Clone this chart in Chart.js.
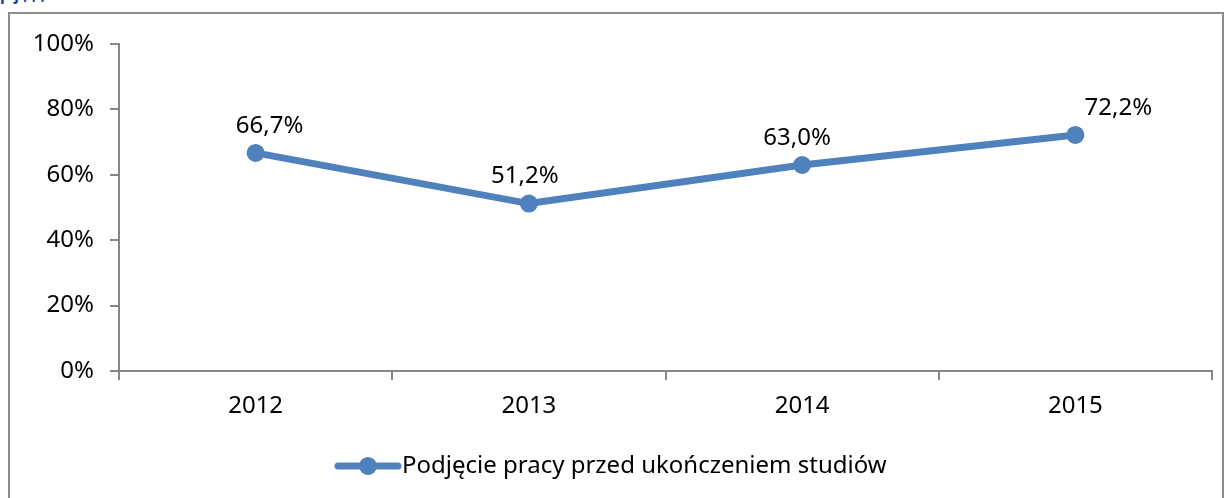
<!DOCTYPE html>
<html>
<head>
<meta charset="utf-8">
<script src="https://cdn.jsdelivr.net/npm/chart.js@4.4.0/dist/chart.umd.min.js"></script>
<style>
  html, body { margin: 0; padding: 0; background: #fff; overflow: hidden; }
  #wrap { position: relative; width: 1228px; height: 498px; }
  #frame { position: absolute; left: 8px; top: 12px; width: 1216px; height: 500px; border: 2px solid #8c8c8c; box-sizing: border-box; }
  #topline { position: absolute; left: 0; top: -17px; font: bold 16px "Noto Sans", sans-serif; color: #1f3f8f; white-space: nowrap; }
  canvas { position: absolute; left: 0; top: 0; }
</style>
</head>
<body>
<div id="wrap">
  <div id="topline">p      j     ,            ,              ,</div>
  <div id="frame"></div>
  <canvas id="chart" width="1228" height="498"></canvas>
</div>
<script>
// Data
const years = ['2012', '2013', '2014', '2015'];
const values = [66.7, 51.2, 63.0, 72.2];
const seriesName = 'Podjęcie pracy przed ukończeniem studiów';
const yTicks = [0, 20, 40, 60, 80, 100];

const blue = '#4f81bd';
const axisGray = '#868686';
const font = '"Noto Sans", "Open Sans", sans-serif';
const fontSize = 24;

function pl(v) {
    return v.toFixed(1).replace('.', ',') + '%';
}

// Data labels above points, legend at bottom
const labelsPlugin = {
    id: 'labels',
    afterDatasetsDraw(chart) {
        const ctx = chart.ctx;
        const meta = chart.getDatasetMeta(0);
        const shift = [14, -4, -5, 43];
        ctx.save();
        ctx.font = fontSize + 'px ' + font;
        ctx.fillStyle = '#000';
        ctx.textAlign = 'center';
        ctx.textBaseline = 'middle';
        meta.data.forEach(function(pt, i) {
            ctx.fillText(pl(values[i]), pt.x + shift[i], pt.y - 27);
        });

        // legend
        const ly = 466;
        ctx.strokeStyle = blue;
        ctx.lineWidth = 7;
        ctx.lineCap = 'round';
        ctx.beginPath();
        ctx.moveTo(338, ly);
        ctx.lineTo(398, ly);
        ctx.stroke();
        ctx.fillStyle = blue;
        ctx.beginPath();
        ctx.arc(368, ly, 9, 0, Math.PI * 2);
        ctx.fill();
        ctx.fillStyle = '#000';
        ctx.textAlign = 'left';
        ctx.fillText(seriesName, 402, ly);
        ctx.restore();
    }
};

new Chart(document.getElementById('chart'), {
    type: 'line',
    data: {
        labels: years,
        datasets: [{
            label: seriesName,
            data: values,
            borderColor: blue,
            backgroundColor: blue,
            borderWidth: 7,
            pointRadius: 9,
            pointHoverRadius: 9,
            pointBackgroundColor: blue,
            pointBorderWidth: 0,
            tension: 0
        }]
    },
    options: {
        responsive: false,
        animation: false,
        events: [],
        layout: { padding: { top: 44, right: 16, left: 0, bottom: 0 } },
        plugins: {
            legend: { display: false },
            tooltip: { enabled: false }
        },
        scales: {
            x: {
                offset: true,
                grid: { offset: true, drawOnChartArea: false, drawTicks: true, tickLength: 9, color: axisGray, lineWidth: 2 },
                border: { color: axisGray, width: 2 },
                ticks: { color: '#000', font: { size: fontSize, family: font }, padding: 12 },
                afterFit(scale) { scale.height = 127; }
            },
            y: {
                min: 0,
                max: 100,
                afterBuildTicks(scale) { scale.ticks = yTicks.map(v => ({ value: v })); },
                grid: { drawOnChartArea: false, drawTicks: true, tickLength: 9, color: axisGray, lineWidth: 2 },
                border: { color: axisGray, width: 2 },
                ticks: {
                    color: '#000',
                    font: { size: fontSize, family: font },
                    padding: 16,
                    callback: v => v + '%'
                },
                afterFit(scale) { scale.width = 119; }
            }
        }
    },
    plugins: [labelsPlugin]
});
</script>
</body>
</html>
